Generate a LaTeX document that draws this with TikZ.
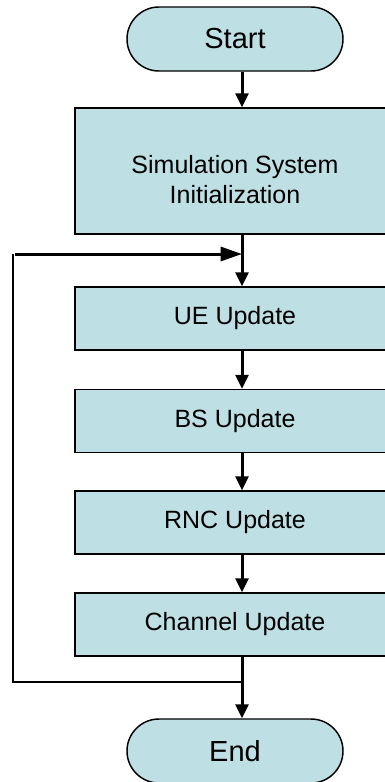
\documentclass[tikz,border=0pt]{standalone}
\usepackage{fontspec}
\setmainfont{Liberation Sans}
\usepackage{tikz}
\usetikzlibrary{arrows.meta}
\definecolor{boxcol}{RGB}{190,224,228}
\tikzset{
  boxfont/.style={font=\fontsize{18.75}{22.5}\selectfont},
  procbox/.style={draw, line width=1.1pt, fill=boxcol, minimum width=240pt,
    align=center, inner sep=0pt, boxfont},
  termbox/.style={draw, line width=1.1pt, fill=boxcol, rounded corners=24pt,
    minimum width=162pt, minimum height=48pt, inner sep=0pt,
    font=\fontsize{21.75}{26}\selectfont},
  flow/.style={-{Triangle[width=9.75pt,length=10.5pt]}, line width=2.25pt},
  backflow/.style={-{Triangle[width=10.5pt,length=16pt]}, line width=2.25pt},
  backline/.style={line width=1.1pt}
}

\begin{document}
\begin{tikzpicture}[x=0.75pt, y=-0.75pt]

  \useasboundingbox (0,0) rectangle (385,782);
  \clip (0,0) rectangle (385,782);

  % Terminals and process steps.
  \node[termbox] (start) at (235,39) {Start};
  \node[procbox, minimum height=94.5pt] (init) at (235,171) {};
  \node[boxfont, align=center] (inittext) at ([yshift=-6.75pt]init.center)
    {Simulation System\\Initialization};
  \node[procbox, minimum height=47.25pt] (ue) at (235,318.5) {UE Update};
  \node[procbox, minimum height=47.25pt] (bs) at (235,421) {BS Update};
  \node[procbox, minimum height=47.25pt] (rnc) at (235,522.5) {RNC Update};
  \node[procbox, minimum height=47.25pt] (chan) at (235,624.5) {Channel Update};
  \node[termbox] (end) at (235,751) {End};

  % The arrows run a little right of the box centres.
  \coordinate (spine) at (242,0);
  \coordinate (merge) at (242,254);
  \coordinate (loopcorner) at (13,254);
  \coordinate (exit) at (242,682);

  % Main flow.
  \draw[flow] (start.south -| spine) -- (init.north -| spine);
  \draw[flow] (init.south -| spine) -- (ue.north -| spine);
  \draw[flow] (ue.south -| spine) -- (bs.north -| spine);
  \draw[flow] (bs.south -| spine) -- (rnc.north -| spine);
  \draw[flow] (rnc.south -| spine) -- (chan.north -| spine);
  \draw[flow] (chan.south -| spine) -- (end.north -| spine);

  % Feedback loop.
  \draw[backline] (exit) -| (loopcorner);
  \draw[backflow] (loopcorner) ++(2,0) -- (merge);

\end{tikzpicture}
\end{document}
